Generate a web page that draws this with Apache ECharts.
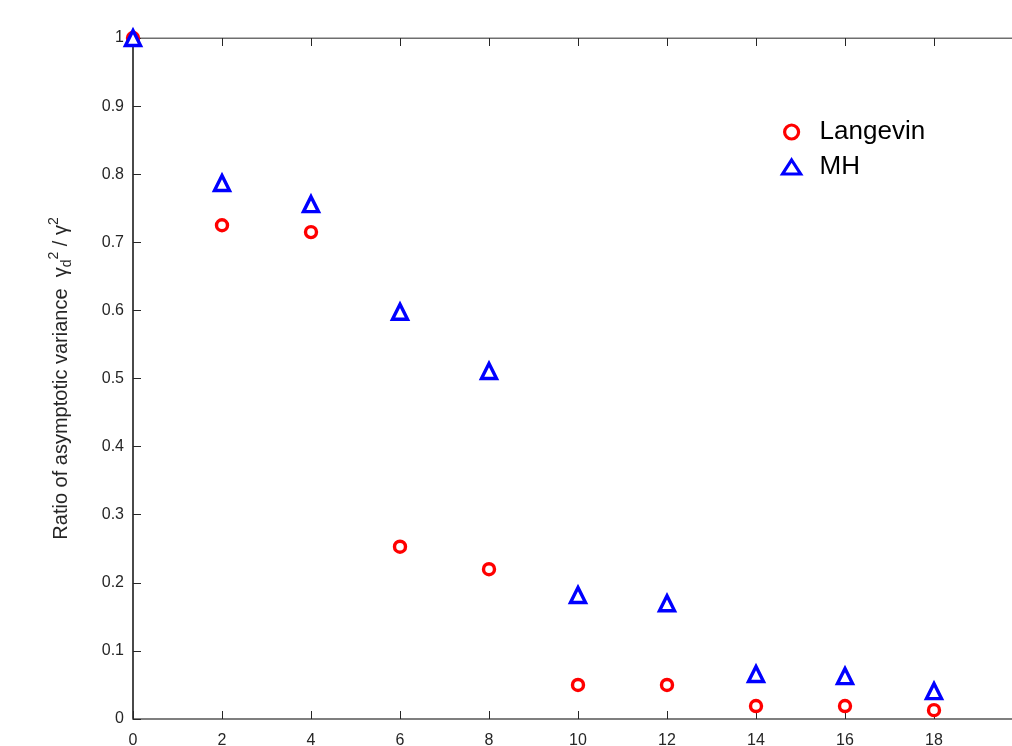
<!DOCTYPE html>
<html>
<head>
<meta charset="utf-8">
<script src="https://cdn.jsdelivr.net/npm/echarts@6/dist/echarts.min.js"></script>
<style>html,body{margin:0;padding:0;background:#fff}#c{width:1012px;height:746px}</style>
</head>
<body>
<div id="c"></div>
<script>
const xValues = [0, 2, 4, 6, 8, 10, 12, 14, 16, 18];
const langevin = [1.0, 0.725, 0.715, 0.253, 0.220, 0.050, 0.050, 0.019, 0.019, 0.013];
const mh = [1.0, 0.787, 0.756, 0.598, 0.511, 0.182, 0.170, 0.066, 0.063, 0.041];
const xTicks = [0, 2, 4, 6, 8, 10, 12, 14, 16, 18, 20];
const yTicks = [0, 0.1, 0.2, 0.3, 0.4, 0.5, 0.6, 0.7, 0.8, 0.9, 1];

const font = 'Liberation Sans, Arial, Helvetica, sans-serif';
const axisColor = '#262626';
const chart = echarts.init(document.getElementById('c'));
chart.setOption({
  animation: false,
  backgroundColor: '#fff',
  textStyle: { fontFamily: font },
  grid: { left: 133, width: 890, top: 38, height: 681, outerBoundsMode: 'none', containLabel: false, show: true, borderColor: '#6e6e6e', borderWidth: 1 },
  legend: {
    orient: 'vertical', left: 776, top: 114, itemGap: 9, itemWidth: 18, itemHeight: 14,
    textStyle: { fontSize: 26, color: '#000', fontFamily: font, padding: [0, 0, 0, 14] },
    data: [
      { name: 'Langevin', itemStyle: { color: '#fff', borderColor: '#ff0000', borderWidth: 3.2 } },
      { name: 'MH', itemStyle: { color: '#fff', borderColor: '#0000ff', borderWidth: 3.2 } }
    ]
  },
  xAxis: [{
    type: 'value', min: 0, max: 20, interval: 2,
    axisLine: { lineStyle: { color: '#6e6e6e', width: 1.5 } },
    axisTick: { inside: true, length: 8, lineStyle: { color: axisColor } },
    axisLabel: { fontSize: 16, color: axisColor, margin: 14 },
    splitLine: { show: false }
  }, {
    type: 'value', min: 0, max: 20, interval: 2, position: 'top',
    axisLine: { show: true, lineStyle: { color: '#6e6e6e' } },
    axisTick: { inside: true, length: 8, lineStyle: { color: axisColor } },
    axisLabel: { show: false }, splitLine: { show: false }
  }],
  yAxis: {
    type: 'value', min: 0, max: 1, interval: 0.1,
    axisLine: { show: true, lineStyle: { color: axisColor, width: 1.5 } },
    axisTick: { show: true, inside: true, length: 8, lineStyle: { color: axisColor } },
    axisLabel: { fontSize: 16, color: axisColor, margin: 9, formatter: v => (Math.round(v * 10) / 10).toString() },
    splitLine: { show: false },
    name: 'Ratio of asymptotic variance  {g|γ}{sub|d}{sup|2}{g| / γ}{sup|2}',
    nameLocation: 'middle', nameGap: 58, nameRotate: 90,
    nameTextStyle: {
      fontSize: 20, color: axisColor, fontFamily: font,
      rich: {
        g: { fontSize: 20, color: axisColor, fontFamily: font },
        sub: { fontSize: 14, color: axisColor, fontFamily: font, padding: [12, 0, 0, 0] },
        sup: { fontSize: 14, color: axisColor, fontFamily: font, padding: [0, 0, 14, 0] }
      }
    }
  },
  series: [{
    name: 'Langevin', type: 'scatter', xAxisIndex: 0,
    data: xValues.map((x, i) => [x, langevin[i]]),
    symbol: 'circle', symbolSize: 11,
    itemStyle: { color: '#fff', borderColor: '#ff0000', borderWidth: 3.4, opacity: 1 },
    z: 2
  }, {
    name: 'MH', type: 'scatter', xAxisIndex: 0,
    data: xValues.map((x, i) => [x, mh[i]]),
    symbol: 'triangle', symbolSize: 15,
    itemStyle: { color: '#fff', borderColor: '#0000ff', borderWidth: 3.4, opacity: 1 },
    z: 3
  }]
});
</script>
</body>
</html>
